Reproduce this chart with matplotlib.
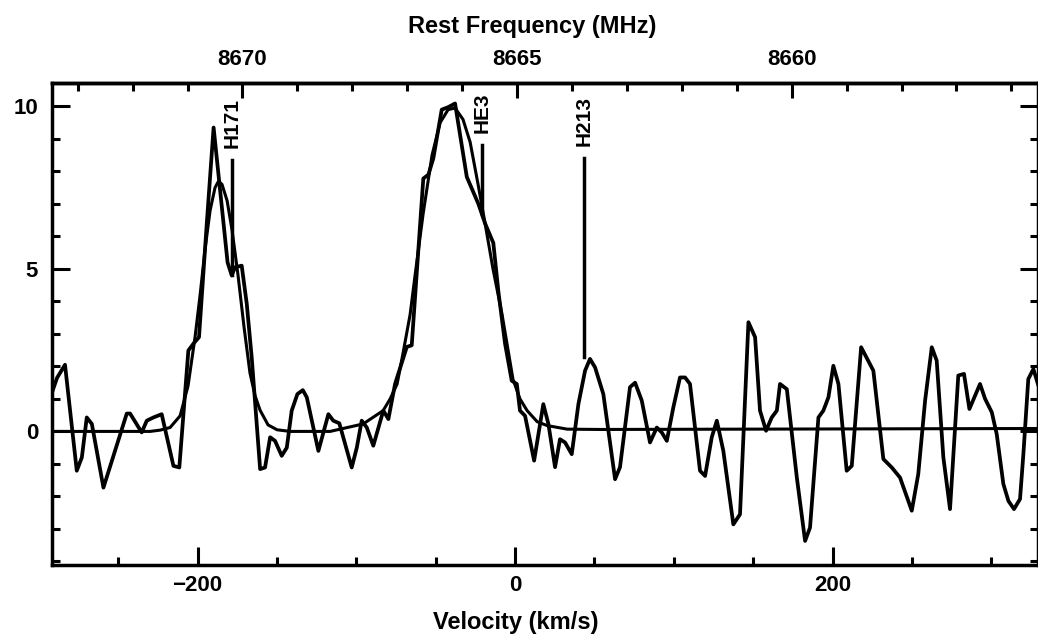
import numpy as np
import matplotlib
matplotlib.use("Agg")
import matplotlib.pyplot as plt
from matplotlib.ticker import MultipleLocator, FixedLocator

# ---------------- data ----------------
spec_v = [-291.7, -288.5, -283.5, -276.1, -272.9, -269.8, -266.6, -259.3, -244.6, -242.5,
          -235.2, -232.0, -227.8, -222.6, -215.2, -211.5, -205.8, -202.6, -199.1, -194.2,
          -189.9, -181.1, -178.5, -176.4, -172.2, -169.0, -165.9, -160.6, -157.5, -154.3,
          -151.2, -147.0, -143.8, -140.7, -137.1, -133.7, -131.2, -123.9, -117.6, -114.5,
          -110.7, -102.9, -99.7, -96.6, -93.4, -89.3, -83.0, -79.8, -75.6, -68.2,
          -65.1, -57.8, -54.6, -51.5, -46.2, -42.0, -37.8, -30.4, -23.1, -18.9,
          -13.7, -10.5, -6.3, -2.1, 1.1, 3.1, 6.3, 12.0, 17.8, 21.0,
          25.2, 28.3, 31.5, 35.7, 39.9, 44.1, 47.2, 50.4, 55.6, 63.0,
          66.1, 72.4, 75.6, 79.8, 85.0, 89.3, 92.4, 95.6, 99.7, 103.9,
          107.1, 110.2, 116.5, 119.7, 123.9, 127.1, 131.2, 137.5, 141.7, 147.0,
          151.2, 154.3, 158.1, 161.7, 164.9, 166.9, 171.2, 177.5, 182.7, 185.8,
          191.1, 194.2, 197.4, 200.5, 203.7, 208.9, 212.1, 218.0, 221.1, 225.7,
          232.0, 237.3, 242.5, 249.9, 254.0, 258.3, 262.5, 265.6, 269.8, 274.0,
          279.2, 282.8, 286.2, 292.9, 296.1, 300.3, 303.4, 307.6, 310.8, 314.3,
          318.1, 320.2, 323.3, 326.5, 331.0]
spec_t = [1.2, 1.65, 2.05, -1.21, -0.8, 0.43, 0.23, -1.73, 0.55, 0.55,
          -0.03, 0.33, 0.43, 0.53, -1.06, -1.11, 2.49, 2.7, 2.9, 6.4,
          9.35, 5.2, 4.8, 5.05, 5.1, 3.92, 2.28, -1.16, -1.11, -0.18,
          -0.29, -0.75, -0.5, 0.64, 1.15, 1.27, 1.05, -0.6, 0.53, 0.33,
          0.25, -1.11, -0.5, 0.33, 0.12, -0.44, 0.64, 0.38, 1.46, 2.6,
          2.65, 7.78, 7.9, 8.4, 9.9, 9.98, 10.09, 7.83, 7.0, 6.4,
          5.8, 4.3, 2.7, 1.56, 1.46, 0.64, 0.48, -0.9, 0.84, 0.23,
          -1.1, -0.24, -0.34, -0.7, 0.84, 1.87, 2.23, 1.97, 1.15, -1.47,
          -1.1, 1.36, 1.5, 0.95, -0.34, 0.12, -0.03, -0.29, 0.74, 1.66,
          1.66, 1.46, -1.21, -1.37, -0.18, 0.33, -0.6, -2.86, -2.55, 3.36,
          2.9, 0.64, 0.02, 0.43, 0.64, 1.46, 1.3, -1.42, -3.37, -2.96,
          0.43, 0.64, 1.05, 2.02, 1.46, -1.21, -1.06, 2.59, 2.3, 1.87,
          -0.85, -1.11, -1.42, -2.44, -1.31, 0.95, 2.59, 2.18, -0.8, -2.39,
          1.72, 1.77, 0.69, 1.46, 1.0, 0.59, -0.08, -1.62, -2.14, -2.39,
          -2.08, -0.7, 1.61, 1.92, 1.2]

fit_v = [-291.7, -229.9, -223.6, -217.3, -211.0, -206.0, -201.6, -198.4, -195.3, -192.1,
         -189.0, -186.8, -184.6, -181.4, -178.3, -174.5, -170.7, -167.0, -163.8, -160.6,
         -155.6, -149.9, -141.7, -116.5, -110.2, -95.7, -83.1, -78.7, -74.3, -70.6,
         -66.1, -63.0, -57.9, -52.3, -47.2, -42.2, -37.8, -32.8, -28.3, -23.3,
         -18.9, -13.9, -8.2, -4.4, -1.3, 3.1, 7.6, 13.9, 20.2, 32.8,
         53.5, 331.0]
fit_t = [0.0, 0.0, 0.04, 0.12, 0.48, 1.4, 2.9, 4.2, 5.6, 6.8,
         7.5, 7.7, 7.6, 7.1, 6.2, 4.8, 3.2, 1.8, 1.1, 0.65,
         0.2, 0.05, 0.0, 0.0, 0.07, 0.23, 0.64, 1.0, 1.46, 2.4,
         3.6, 4.8, 6.7, 8.5, 9.5, 9.9, 9.95, 9.6, 8.9, 7.6,
         6.4, 5.0, 3.6, 2.5, 1.6, 1.0, 0.64, 0.3, 0.18, 0.07,
         0.06, 0.09]

line_names = ["H171", "HE3", "H213"]
line_vel = [-178.3, -20.8, 43.5]
line_top = [8.35, 8.8, 8.4]
line_bottom = [4.8, 6.7, 2.3]

F0 = 8665.036      # MHz at v = 0
C_KMS = 299792.458

xticks_major = [-200, 0, 200]
yticks_major = [0, 5, 10]
fticks_major = [8660, 8665, 8670]

# ---------------- figure ----------------
plt.rcParams['font.family'] = ['Liberation Sans', 'DejaVu Sans']
plt.rcParams['font.weight'] = 'bold'

fig = plt.figure(figsize=(10.38, 6.35), dpi=100)
ax = fig.add_axes([52/1038, 1-565/635, (1037.5-52)/1038, (565-83)/635])

ax.plot(spec_v, spec_t, color='black', lw=2.7, solid_joinstyle='round')
ax.plot(fit_v, fit_t, color='black', lw=2.2, solid_joinstyle='round')

for name, v, t, b in zip(line_names, line_vel, line_top, line_bottom):
    ax.plot([v, v], [b, t], color='black', lw=2.5)
    ax.text(v, t + 0.37, name, rotation=90, ha='center', va='bottom',
            fontsize=15, fontweight='bold')

ax.set_xlim(-291.7, 329.1)
ax.set_ylim(-4.11, 10.72)

for s in ax.spines.values():
    s.set_linewidth(2.5)

ax.xaxis.set_major_locator(FixedLocator(xticks_major))
ax.xaxis.set_minor_locator(MultipleLocator(50))
ax.yaxis.set_major_locator(FixedLocator(yticks_major))
ax.yaxis.set_minor_locator(MultipleLocator(1))
ax.set_xticklabels([f"{t:d}".replace('-', '\u2212') for t in xticks_major])
ax.set_yticklabels([str(t) for t in yticks_major])

ax.tick_params(axis='x', which='major', direction='in', length=13, width=2.2,
               labelsize=16, pad=7, top=False)
ax.tick_params(axis='x', which='minor', direction='in', length=6, width=2.2, top=False)
ax.tick_params(axis='y', which='major', direction='in', length=13, width=2.2,
               labelsize=16, pad=10, right=True)
ax.tick_params(axis='y', which='minor', direction='in', length=6, width=2.2, right=True)

def v2f(v):
    return F0 * (1 - np.asarray(v) / C_KMS)

def f2v(f):
    return C_KMS * (1 - np.asarray(f) / F0)

sec = ax.secondary_xaxis('top', functions=(v2f, f2v))
sec.xaxis.set_major_locator(FixedLocator(fticks_major))
sec.xaxis.set_minor_locator(MultipleLocator(1))
sec.tick_params(which='major', direction='in', length=11, width=2.2, labelsize=16, pad=9)
sec.tick_params(which='minor', direction='in', length=6, width=2.2)
sec.spines['top'].set_linewidth(2.5)

fig.text(532/1038, 1-27/635, "Rest Frequency (MHz)", ha='center', va='center',
         fontsize=17, fontweight='bold')
fig.text(516/1038, 1-622/635, "Velocity (km/s)", ha='center', va='center',
         fontsize=17, fontweight='bold')

fig.savefig("out.png", dpi=100, facecolor='white')
